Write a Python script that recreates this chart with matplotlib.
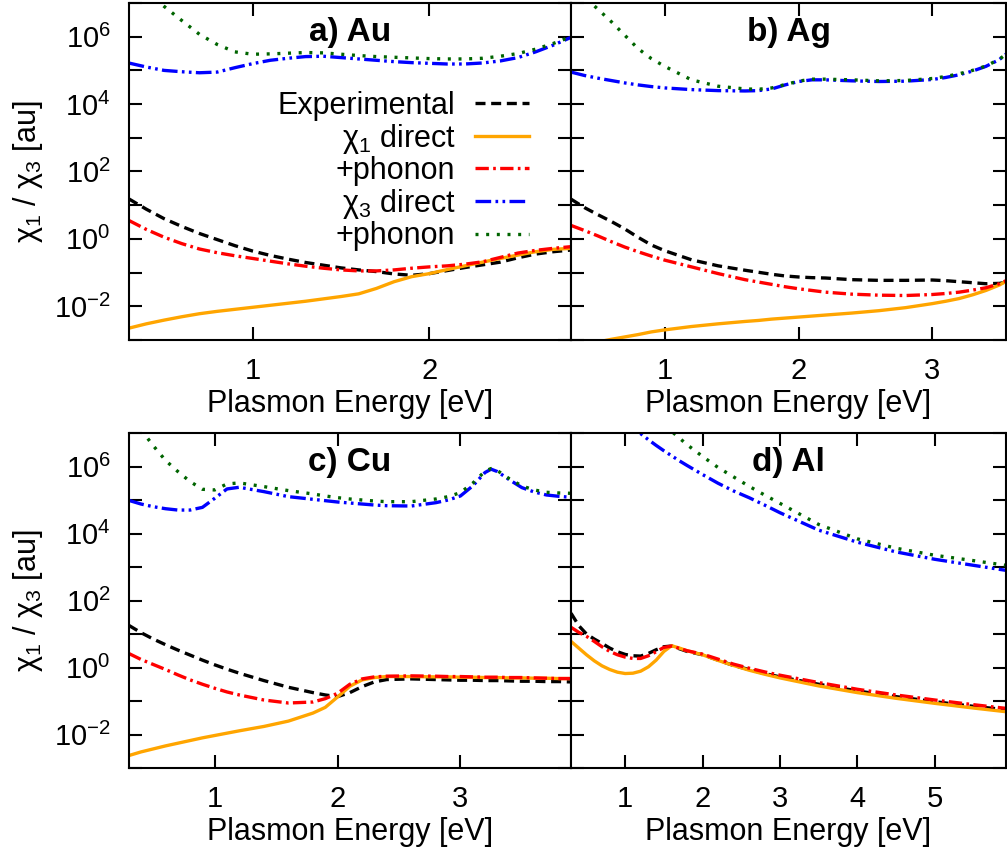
import numpy as np
import matplotlib
matplotlib.use("Agg")
import matplotlib.pyplot as plt
from matplotlib.ticker import FixedLocator, FuncFormatter, NullLocator

plt.rcParams['font.family'] = ['Liberation Sans', 'DejaVu Sans']
plt.rcParams['mathtext.fontset'] = 'custom'
plt.rcParams['mathtext.rm'] = 'Liberation Sans'
plt.rcParams['mathtext.it'] = 'Liberation Sans'
plt.rcParams['mathtext.bf'] = 'Liberation Sans:bold'
plt.rcParams['mathtext.default'] = 'regular'

# ---- data (log10 of chi1 / chi3 in au) ----
au_x = [0.3, 0.4, 0.5, 0.6, 0.7, 0.8, 0.9, 1.0, 1.1, 1.2, 1.3, 1.4, 1.5, 1.6, 1.7,
        1.8, 1.9, 2.0, 2.1, 2.2, 2.3, 2.4, 2.5, 2.6, 2.7, 2.8]
au_exp = [1.19, 0.88, 0.60, 0.37, 0.16, -0.02, -0.20, -0.36, -0.49, -0.60, -0.70, -0.78, -0.86,
          -0.92, -0.97, -1.04, -1.08, -1.03, -0.94, -0.85, -0.77, -0.69, -0.56, -0.45, -0.38, -0.33]
au_chi1 = [-2.65, -2.52, -2.41, -2.31, -2.22, -2.15, -2.09, -2.03, -1.97, -1.91, -1.85, -1.78, -1.71,
           -1.63, -1.47, -1.27, -1.12, -1.03, -0.91, -0.80, -0.69, -0.58, -0.48, -0.38, -0.31, -0.28]
au_chi1_ph = [0.55, 0.28, 0.05, -0.14, -0.30, -0.41, -0.50, -0.58, -0.66, -0.74, -0.81, -0.87, -0.92,
              -0.95, -0.95, -0.92, -0.87, -0.83, -0.80, -0.75, -0.68, -0.55, -0.42, -0.34, -0.28, -0.23]
au_chi3 = [5.22, 5.10, 5.00, 4.96, 4.93, 4.95, 5.08, 5.20, 5.30, 5.36, 5.41, 5.42, 5.38,
           5.34, 5.30, 5.26, 5.23, 5.21, 5.19, 5.19, 5.22, 5.28, 5.38, 5.55, 5.75, 5.98]
au_chi3_ph = [7.80, 7.35, 6.90, 6.48, 6.07, 5.77, 5.55, 5.48, 5.49, 5.51, 5.53, 5.52, 5.48,
              5.44, 5.41, 5.39, 5.37, 5.35, 5.34, 5.34, 5.36, 5.42, 5.50, 5.63, 5.80, 6.00]

ag_x = [0.3, 0.4, 0.5, 0.6, 0.7, 0.8, 0.9, 1.0, 1.2, 1.4, 1.6, 1.7, 1.8, 1.9, 2.0, 2.1, 2.2,
        2.4, 2.6, 2.8, 3.0, 3.1, 3.2, 3.3, 3.4, 3.5, 3.55]
ag_exp = [1.18, 0.93, 0.72, 0.52, 0.30, 0.05, -0.18, -0.35, -0.62, -0.80, -0.93, -0.99, -1.05,
          -1.10, -1.13, -1.15, -1.16, -1.21, -1.23, -1.23, -1.22, -1.24, -1.27, -1.30, -1.33, -1.32, -1.29]
ag_chi1 = [-3.25, -3.16, -3.06, -2.98, -2.91, -2.84, -2.76, -2.70, -2.60, -2.52, -2.45, -2.42, -2.38,
           -2.35, -2.32, -2.29, -2.26, -2.20, -2.13, -2.04, -1.92, -1.85, -1.77, -1.66, -1.53, -1.37, -1.26]
ag_chi1_ph = [0.40, 0.25, 0.09, -0.08, -0.24, -0.38, -0.51, -0.63, -0.83, -1.03, -1.21, -1.28, -1.35,
              -1.42, -1.48, -1.53, -1.58, -1.64, -1.67, -1.68, -1.65, -1.62, -1.58, -1.52, -1.45, -1.33, -1.24]
ag_chi3 = [4.95, 4.85, 4.77, 4.70, 4.63, 4.57, 4.52, 4.48, 4.43, 4.40, 4.39, 4.40, 4.45,
           4.57, 4.67, 4.72, 4.72, 4.69, 4.67, 4.68, 4.73, 4.79, 4.87, 4.98, 5.12, 5.32, 5.48]
ag_chi3_ph = [7.60, 7.18, 6.82, 6.45, 6.05, 5.65, 5.35, 5.12, 4.72, 4.53, 4.45, 4.44, 4.48,
              4.58, 4.68, 4.74, 4.74, 4.72, 4.69, 4.70, 4.76, 4.82, 4.90, 5.00, 5.13, 5.33, 5.48]

cu_x = [0.3, 0.4, 0.5, 0.6, 0.7, 0.8, 0.9, 1.0, 1.1, 1.2, 1.4, 1.6, 1.8, 1.9, 2.0, 2.1, 2.2,
        2.3, 2.4, 2.6, 2.8, 2.9, 3.0, 3.1, 3.2, 3.25, 3.3, 3.4, 3.5, 3.6, 3.7, 3.8, 3.9]
cu_exp = [1.26, 1.04, 0.85, 0.68, 0.52, 0.37, 0.22, 0.08, -0.05, -0.17, -0.39, -0.59, -0.75,
          -0.82, -0.87, -0.75, -0.57, -0.43, -0.36, -0.34, -0.36, -0.37, -0.38, -0.38, -0.39, -0.39,
          -0.39, -0.40, -0.41, -0.41, -0.42, -0.42, -0.43]
cu_chi1 = [-2.63, -2.52, -2.43, -2.34, -2.26, -2.18, -2.10, -2.03, -1.96, -1.89, -1.76, -1.60, -1.36,
           -1.19, -0.88, -0.56, -0.37, -0.30, -0.27, -0.27, -0.28, -0.28, -0.29, -0.29, -0.30, -0.30,
           -0.30, -0.31, -0.31, -0.32, -0.32, -0.33, -0.33]
cu_chi1_ph = [0.42, 0.24, 0.09, -0.06, -0.22, -0.37, -0.50, -0.62, -0.73, -0.82, -0.97, -1.06, -1.03,
              -0.93, -0.77, -0.50, -0.34, -0.28, -0.26, -0.25, -0.26, -0.27, -0.27, -0.28, -0.29, -0.29,
              -0.29, -0.30, -0.30, -0.31, -0.32, -0.33, -0.33]
cu_chi3 = [4.99, 4.88, 4.80, 4.74, 4.70, 4.70, 4.78, 5.05, 5.33, 5.38, 5.25, 5.10, 5.02,
           4.98, 4.94, 4.91, 4.88, 4.85, 4.83, 4.82, 4.92, 5.00, 5.12, 5.42, 5.82, 5.92,
           5.85, 5.60, 5.37, 5.24, 5.15, 5.11, 5.08]
cu_chi3_ph = [7.60, 7.10, 6.62, 6.18, 5.85, 5.55, 5.32, 5.30, 5.48, 5.51, 5.40, 5.28, 5.18,
              5.12, 5.07, 5.03, 5.00, 4.97, 4.95, 4.95, 5.03, 5.10, 5.22, 5.50, 5.86, 5.94,
              5.88, 5.63, 5.42, 5.30, 5.23, 5.21, 5.20]

al_x = [0.3, 0.4, 0.5, 0.6, 0.7, 0.8, 0.9, 1.0, 1.1, 1.2, 1.3, 1.4, 1.5, 1.6, 1.7, 1.8, 2.0,
        2.2, 2.4, 2.6, 2.8, 3.0, 3.5, 4.0, 4.5, 5.0, 5.5, 5.92]
al_exp = [1.62, 1.25, 1.00, 0.85, 0.72, 0.58, 0.47, 0.39, 0.35, 0.34, 0.42, 0.53, 0.62, 0.64,
          0.56, 0.48, 0.38, 0.22, 0.06, -0.06, -0.18, -0.28, -0.50, -0.70, -0.87, -1.02, -1.16, -1.26]
al_chi1 = [0.78, 0.58, 0.38, 0.20, 0.05, -0.06, -0.14, -0.18, -0.17, -0.11, 0.02, 0.22, 0.48, 0.65,
           0.58, 0.50, 0.38, 0.21, 0.06, -0.08, -0.20, -0.31, -0.55, -0.75, -0.92, -1.07, -1.21, -1.32]
al_chi1_ph = [1.20, 1.05, 0.93, 0.78, 0.62, 0.48, 0.38, 0.31, 0.27, 0.27, 0.35, 0.47, 0.60, 0.64,
              0.57, 0.50, 0.40, 0.25, 0.10, -0.02, -0.13, -0.23, -0.45, -0.65, -0.82, -0.97, -1.11, -1.22]
al_chi3 = [8.60, 8.40, 8.20, 8.02, 7.84, 7.66, 7.48, 7.31, 7.14, 6.98, 6.80, 6.63, 6.47, 6.32,
           6.17, 6.03, 5.76, 5.50, 5.27, 5.07, 4.85, 4.62, 4.10, 3.74, 3.45, 3.23, 3.05, 2.90]
al_chi3_ph = [9.80, 9.55, 9.30, 9.07, 8.85, 8.63, 8.42, 8.22, 8.02, 7.83, 7.64, 7.45, 7.25, 7.05,
              6.85, 6.65, 6.30, 5.97, 5.69, 5.41, 5.15, 4.90, 4.27, 3.84, 3.56, 3.35, 3.19, 3.05]

labels = ['Experimental', r'χ$_1$ direct', '+phonon', r'χ$_3$ direct', '+phonon']
styles = [
    dict(color='black', dashes=(3.0, 1.7)),
    dict(color='#FFA500', linestyle='-'),
    dict(color='#FF0000', dashes=(4.0, 1.3, 0.8, 1.3)),
    dict(color='#0000FF', dashes=(4.7, 1.3, 0.8, 1.3, 0.8, 1.3)),
    dict(color='#006400', dashes=(0.9, 2.3)),
]

panels = [
    ('a) Au', au_x, [au_exp, au_chi1, au_chi1_ph, au_chi3, au_chi3_ph], (0.3, 2.8), [1, 2]),
    ('b) Ag', ag_x, [ag_exp, ag_chi1, ag_chi1_ph, ag_chi3, ag_chi3_ph], (0.3, 3.55), [1, 2, 3]),
    ('c) Cu', cu_x, [cu_exp, cu_chi1, cu_chi1_ph, cu_chi3, cu_chi3_ph], (0.3, 3.9), [1, 2, 3]),
    ('d) Al', al_x, [al_exp, al_chi1, al_chi1_ph, al_chi3, al_chi3_ph], (0.3, 5.92), [1, 2, 3, 4, 5]),
]

W, H = 1007, 852
fig = plt.figure(figsize=(W / 100, H / 100), dpi=100)
boxes = [
    [128.7 / W, 1 - 340 / H, 442.3 / W, 337 / H],
    [571 / W, 1 - 340 / H, 435 / W, 337 / H],
    [128.7 / W, 1 - 768 / H, 442.3 / W, 335 / H],
    [571 / W, 1 - 768 / H, 435 / W, 335 / H],
]


def ylab(v, pos):
    k = int(round(np.log10(v)))
    return '10$^{%d}$' % k if k % 2 == 0 else ''


for i, (title, x, series, xlim, xticks) in enumerate(panels):
    ax = fig.add_axes(boxes[i])
    for vals, st, lab in zip(series, styles, labels):
        ax.plot(x, 10.0 ** np.array(vals), lw=2.4, label=lab, **st)
    ax.set_yscale('log')
    ax.set_ylim(1e-3, 1e7)
    ax.set_xlim(*xlim)
    ax.yaxis.set_major_locator(FixedLocator([10.0 ** k for k in range(-3, 8)]))
    ax.yaxis.set_minor_locator(NullLocator())
    ax.yaxis.set_major_formatter(FuncFormatter(ylab))
    ax.set_xticks(xticks)
    ax.tick_params(which='both', direction='in', top=True, right=True,
                   length=9.5, width=1.5, labelsize=21)
    ax.tick_params(axis='x', pad=12)
    ax.tick_params(axis='y', pad=13)
    for sp in ax.spines.values():
        sp.set_linewidth(1.5)
    ax.text(0.5, 0.912, title, transform=ax.transAxes, ha='center', va='center',
            fontsize=24, fontweight='bold')
    ax.set_xlabel('Plasmon Energy [eV]', fontsize=22)
    ax.xaxis.set_label_coords(0.5, -0.145)
    if i % 2 == 0:
        ax.set_ylabel(r'χ$_1$ / χ$_3$ [au]', fontsize=22)
        ax.yaxis.set_label_coords(-0.19, 0.5)
    else:
        ax.tick_params(axis='y', labelleft=False)
    if i == 0:
        ax.legend(loc='upper right', bbox_to_anchor=(0.906, 0.739), markerfirst=False,
                  frameon=False, fontsize=22, handlelength=1.77, handletextpad=0.65,
                  labelspacing=0.02, borderpad=0, borderaxespad=0)

fig.savefig('out.png', dpi=100)
